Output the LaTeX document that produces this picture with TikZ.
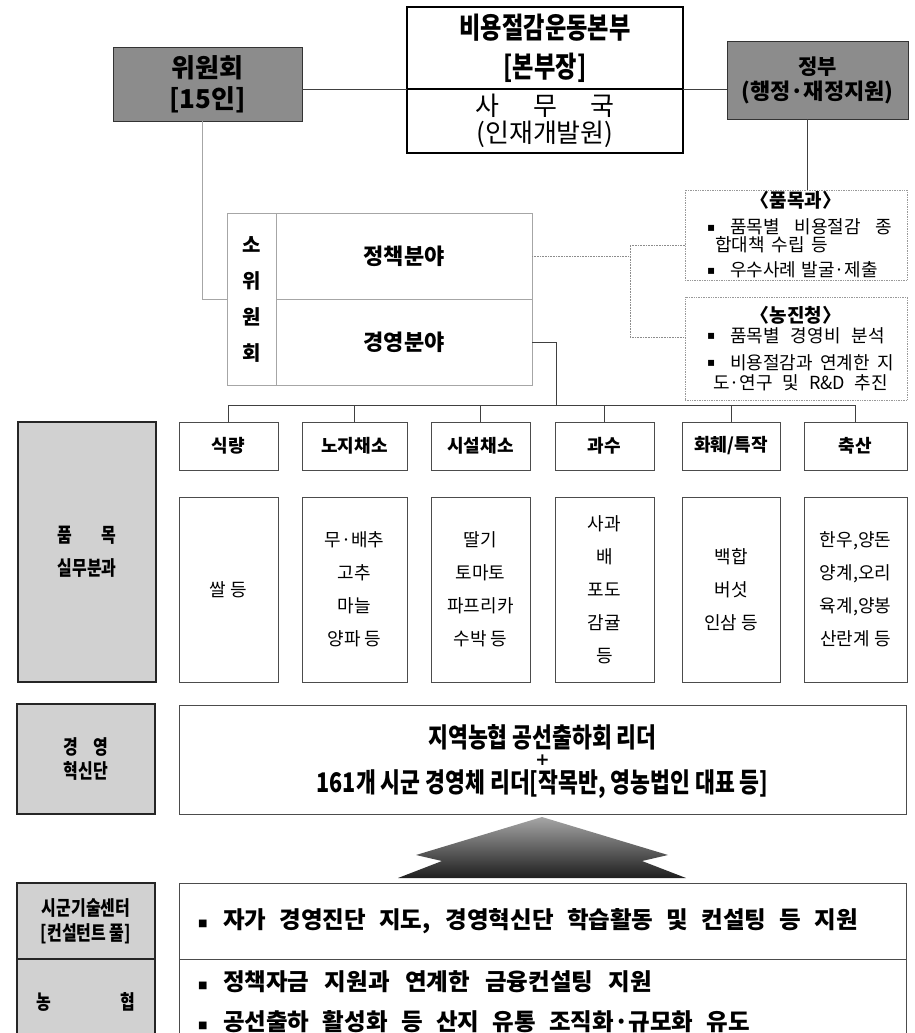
\documentclass[tikz,border=0pt]{standalone}
\usepackage{fontspec}
\setmainfont{Noto Sans CJK KR}
\newfontfamily\headfont[FakeStretch=0.8]{Noto Sans CJK KR}
\newfontfamily\symfont{DejaVu Sans}
\usetikzlibrary{positioning,calc}
\setlength\parindent{0pt}
\newcommand\fsz[2]{\fontsize{#1}{#2}\selectfont}
\newcommand\spreadbox[2]{\makebox[#1][s]{\spaceskip=0.3em plus 1fil\relax#2}}
\newcommand\dotbul{\makebox[23pt][l]{\symfont\fsz{12}{12}\raisebox{2.5pt}{▪}}}
\newcommand\sqbul{\makebox[25pt][l]{\symfont\fsz{10}{10}\raisebox{2pt}{■}}}
\tikzset{
    chart-box/.style={
        draw,
        inner sep=0pt,
        outer sep=0pt,
        align=center
    },
    dark-box/.style={chart-box, draw=black!80, line width=1pt, fill=black!45},
    shade-box/.style={chart-box, draw=black!85, line width=1.6pt, fill=black!18},
    cat-box/.style={
        chart-box,
        draw=black!70,
        line width=0.8pt,
        minimum width=99pt,
        minimum height=48pt,
        font=\bfseries\fsz{18}{18}
    },
    list-box/.style={
        chart-box,
        draw=black!70,
        line width=0.8pt,
        minimum width=99pt,
        minimum height=185pt,
        font=\fsz{18}{33}
    },
    wide-box/.style={
        chart-box,
        draw=black!70,
        line width=0.8pt,
        minimum width=727pt,
        text width=689pt,
        align=left,
        font=\bfseries\fsz{23.5}{40}
    },
    note-box/.style={
        chart-box,
        draw=black!40,
        densely dotted,
        line width=0.7pt,
        minimum width=222pt,
        text width=178pt,
        align=left,
        font=\fsz{18}{19}
    },
    lead-text/.style={inner sep=0pt, font=\headfont\bfseries\fsz{27}{27}},
    sub-line/.style={draw=black!35, line width=0.6pt},
    link-line/.style={draw=black!75, line width=0.7pt},
    dot-line/.style={draw=black!45, densely dotted, line width=0.6pt},
}

\begin{document}
\begin{tikzpicture}[x=1pt,y=-1pt]
    \useasboundingbox (0,0) rectangle (915,1033);

    % head office and the two sides
    \node[chart-box, line width=1.3pt, minimum width=276pt, minimum height=82pt,
          font=\headfont\bfseries\fsz{29}{39}] (hq) at (545,48) {비용절감운동본부\\{[본부장]}};
    \node[chart-box, line width=1.3pt, minimum width=276pt, minimum height=64pt,
          font=\fsz{26}{27}, below=0pt of hq] (office) {사\hspace{34pt}무\hspace{34pt}국\\(인재개발원)};
    \node[dark-box, minimum width=189pt, minimum height=73pt,
          font=\bfseries\fsz{26}{31}] (committee) at (207.5,84.5) {위원회\\{[15인]}};
    \node[dark-box, minimum width=181pt, minimum height=77pt,
          font=\bfseries\fsz{22}{25}] (govt) at (817.5,80.5) {{\fsz{21}{25}정부}\\(행정·재정지원)};

    \draw[link-line] (committee.east |- hq.south) -- (hq.south west);
    \draw[link-line] (hq.south east) -- (hq.south east -| govt.west);

    % sub committee
    \node[chart-box, sub-line, minimum width=49pt, minimum height=172pt,
          font=\bfseries\fsz{20}{36}] (subcomm) at (251.5,299) {소\\위\\원\\회};
    \node[chart-box, sub-line, minimum width=256pt, minimum height=86pt,
          font=\bfseries\fsz{22}{22}, anchor=north west] (policy) at (subcomm.north east) {정책분야};
    \node[chart-box, sub-line, minimum width=256pt, minimum height=86pt,
          font=\bfseries\fsz{22}{22}, below=0pt of policy] (mgmt) {경영분야};
    \draw[sub-line] ([xshift=-5pt]committee.south) |- (subcomm.west);

    % ministry notes
    \node[note-box, minimum height=90pt] (items) at (796,235) {%
        {\bfseries\fsz{19}{19}\makebox[178pt]{〈품목과〉}}\\[7pt]
        \dotbul\spreadbox{162pt}{품목별 비용절감 종}\\[-1pt]
        \hspace*{8pt}\spreadbox{113pt}{합대책 수립 등}\\[6pt]
        \dotbul\spreadbox{142pt}{우수사례 발굴·제출}};
    \node[note-box, minimum height=103pt] (rda) at (796,348.5) {%
        {\bfseries\fsz{19}{19}\makebox[178pt]{〈농진청〉}}\\[1pt]
        \dotbul\spreadbox{155pt}{품목별 경영비 분석}\\[8pt]
        \dotbul\spreadbox{164pt}{비용절감과 연계한 지}\\[1pt]
        \hspace*{6pt}\spreadbox{175pt}{도·연구 및 R\&D 추진}};

    \draw[link-line] ([xshift=-10pt]govt.south) -- ([xshift=-10pt]govt.south |- items.north);
    \draw[dot-line] (policy.east) -- ++(98,0) coordinate (note-split);
    \draw[dot-line] ([yshift=-10pt]items.west) -| (note-split) |- ([yshift=11.5pt]rda.west);

    % crop groups
    \node[shade-box, minimum width=138pt, minimum height=260pt,
          font=\headfont\bfseries\fsz{20}{33}] (crop-team) at (87,552) {품\hspace{30pt}목\\실무분과};

    \node[cat-box] (grain) at (228.5,446) {식량};
    \node[cat-box, minimum width=105pt] (openveg) at (354.5,446) {노지채소};
    \node[cat-box] (hothouse) at (480.5,446) {시설채소};
    \node[cat-box] (fruit) at (604.5,446) {과수};
    \node[cat-box, minimum width=98pt] (flower) at (731,446) {화훼/특작};
    \node[cat-box, minimum width=103pt] (livestock) at (855.5,446) {축산};

    \node[list-box, below=27pt of grain] (grain-list) {쌀 등};
    \node[list-box, minimum width=105pt, below=27pt of openveg] (openveg-list) {무·배추\\고추\\마늘\\양파 등};
    \node[list-box, below=27pt of hothouse] (hothouse-list) {딸기\\토마토\\파프리카\\수박 등};
    \node[list-box, below=27pt of fruit] (fruit-list) {사과\\배\\포도\\감귤\\등};
    \node[list-box, minimum width=98pt, below=27pt of flower] (flower-list) {백합\\버섯\\인삼 등};
    \node[list-box, minimum width=103pt, below=27pt of livestock] (livestock-list) {한우,양돈\\양계,오리\\육계,양봉\\산란계 등};

    \coordinate (bus) at (556,405);
    \draw[link-line] (mgmt.east) -| (bus);
    \draw[link-line] (grain.north |- bus) -- (livestock.north |- bus);
    \foreach \n in {grain,openveg,hothouse,fruit,flower,livestock}
        \draw[link-line] (\n.north) -- (\n.north |- bus);

    % innovation team
    \node[shade-box, minimum width=138pt, minimum height=110pt,
          font=\headfont\bfseries\fsz{20}{24}] (innov) at (86,759) {경\hspace{15pt}영\\혁신단};
    \node[wide-box, minimum height=109pt] (leaders) at (542.5,759.5) {};
    \node[lead-text] (leaders-top) at (542.5,737) {지역농협 공선출하회 리더};
    \node[inner sep=0pt, font=\symfont\bfseries\fsz{17}{17}] (leaders-plus) at (542.5,760) {+};
    \node[lead-text] (leaders-bottom) at (542.5,784) {161개 시군 경영체 리더[작목반, 영농법인 대표 등]};

    \shade[top color=black!35, bottom color=black!88]
        (542,817) -- (668,855) -- (642,861) -- (686,878) -- (398,878) -- (442,861) -- (416,855) -- cycle;

    % support
    \node[shade-box, minimum width=138pt, minimum height=76pt,
          font=\headfont\bfseries\fsz{20}{25}] (tech) at (86,921) {시군기술센터\\{[컨설턴트 풀]}};
    \node[shade-box, minimum width=138pt, minimum height=86pt,
          font=\headfont\bfseries\fsz{20}{20}, below=0pt of tech] (nh) {농\hspace{69pt}협};
    \node[wide-box, minimum height=76pt] (consult) at (542.5,921) {%
        \sqbul\spreadbox{635pt}{자가 경영진단 지도, 경영혁신단 학습활동 및 컨설팅 등 지원}};
    \node[wide-box, minimum height=86pt, below=0pt of consult] (finance) {%
        \sqbul\spreadbox{429pt}{정책자금 지원과 연계한 금융컨설팅 지원}\\
        \sqbul\spreadbox{527pt}{공선출하 활성화 등 산지 유통 조직화·규모화 유도}};
\end{tikzpicture}
\end{document}
